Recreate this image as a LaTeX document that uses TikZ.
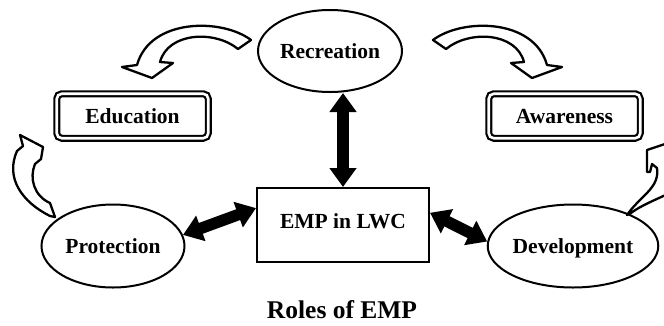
\documentclass[tikz,border=0pt]{standalone}
\usepackage{fontspec}
\setmainfont{Liberation Serif}
\usetikzlibrary{shapes.geometric,arrows.meta}
\begin{document}
\begin{tikzpicture}[x=1pt,y=-1pt,
  every node/.style={font=\fontsize{21.5}{24}\selectfont\bfseries, inner sep=0pt, text depth=0pt},
  oval/.style={ellipse, draw, line width=2pt},
  dbox/.style={draw, rounded corners=5pt, double, line width=2.2pt, double distance=2.6pt,
    minimum width=151.5pt, minimum height=44.5pt},
  mainbox/.style={draw, line width=2pt, minimum width=172pt, minimum height=74pt, text depth=8pt},
  bigarrow/.style={line width=11.5pt, {Triangle[width=26pt,length=19pt]}-{Triangle[width=26pt,length=19pt]}},
  curvarrow/.style={draw, fill=white, line width=2.3pt, line join=round}]
\useasboundingbox (0,0) rectangle (664,325);

% curved hollow arrows
\path[curvarrow] (251,40) .. controls (222,18) and (150,18) .. (137,65) -- (122,67) -- (152,78)
  -- (173,63) -- (160,62) .. controls (168,32) and (215,30) .. (238,49) -- cycle;
\path[curvarrow] (433,40) .. controls (462,18) and (534,18) .. (547,65) -- (562,67) -- (532,78)
  -- (511,63) -- (524,62) .. controls (516,32) and (469,30) .. (446,49) -- cycle;
\path[curvarrow] (50,216) .. controls (22,202) and (5,178) .. (17,151) -- (23,146) -- (20,135)
  -- (43,147) -- (41,159) -- (35,164) .. controls (29,178) and (34,196) .. (50,203) -- (55,217) -- cycle;
\begin{scope}
  \clip (0,0) rectangle (664,325);
  \path[curvarrow] (627,215) .. controls (640,196) and (660,188) .. (657,168) -- (652,164) -- (650,172)
    -- (647,172) -- (647,150) -- (668,143) -- (690,180) -- (672,192)
    .. controls (655,200) and (640,206) .. (631,213) -- cycle;
\end{scope}

% nodes
\node[oval, minimum width=144pt, minimum height=82pt] (rec) at (330,51) {Recreation};
\node[oval, minimum width=143pt, minimum height=83pt] (prot) at (113,246) {Protection};
\node[oval, minimum width=153pt, minimum height=83pt] (dev) at (573,246) {Development};
\node[mainbox] (emp) at (343,225) {EMP in LWC};
\node[dbox] (edu) at (132.5,116) {Education};
\node[dbox] (awa) at (564.5,116) {Awareness};
\node[font=\fontsize{25.5}{28}\selectfont\bfseries] (cap) at (342,310) {Roles of EMP};

% double arrows
\draw[bigarrow] (emp.north) -- (emp.north |- rec.south);
\draw[bigarrow] (prot.9) -- (emp.169);
\draw[bigarrow] (emp.8) -- (dev.177);
\end{tikzpicture}
\end{document}
